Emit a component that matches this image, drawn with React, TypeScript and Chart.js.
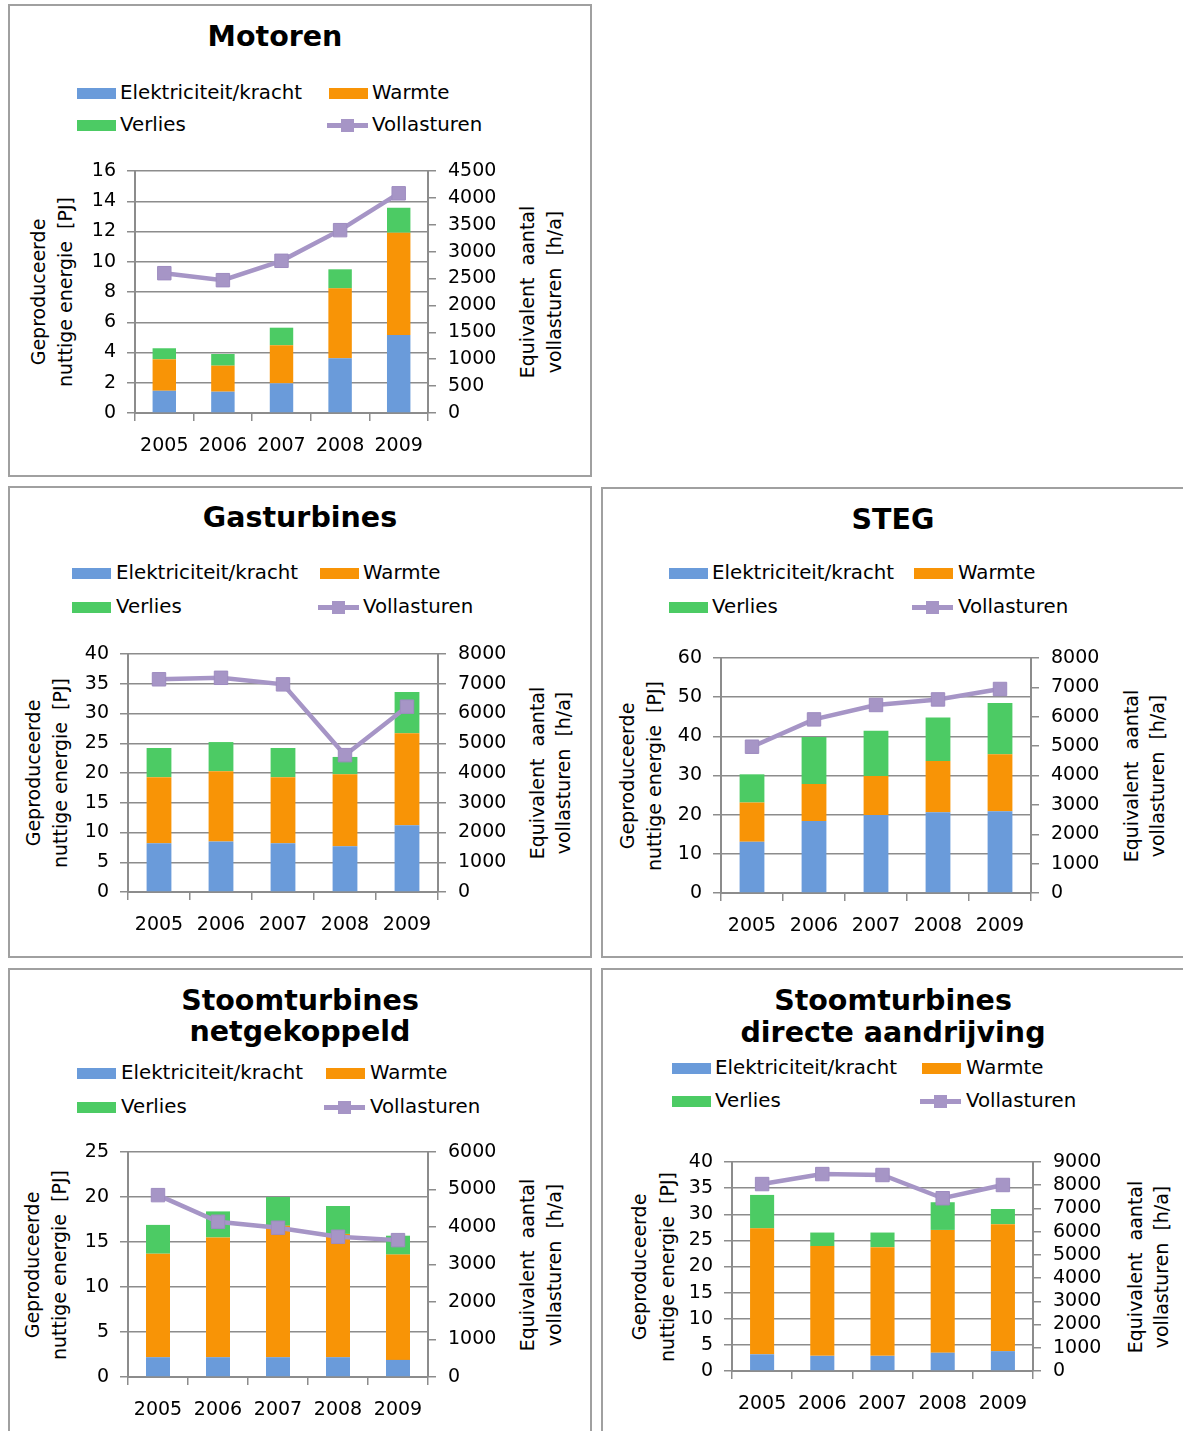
import React, { useEffect, useRef } from 'react';
import { Chart, registerables } from 'chart.js';

Chart.register(...registerables);

// ---------- Data ----------
const years = ['2005', '2006', '2007', '2008', '2009'];
const seriesNames = ['Elektriciteit/kracht', 'Warmte', 'Verlies', 'Vollasturen'];

const motorenElektriciteit = [1.47, 1.41, 1.96, 3.62, 5.16];
const motorenWarmte = [2.08, 1.72, 2.52, 4.62, 6.76];
const motorenVerlies = [0.73, 0.77, 1.16, 1.26, 1.65];
const motorenVollasturen = [2600, 2470, 2830, 3400, 4085];

const gasElektriciteit = [8.2, 8.5, 8.2, 7.7, 11.2];
const gasWarmte = [11.1, 11.8, 11.1, 12.1, 15.5];
const gasVerlies = [4.9, 4.9, 4.9, 2.9, 6.9];
const gasVollasturen = [7150, 7200, 6980, 4600, 6230];

const stegElektriciteit = [13.1, 18.4, 19.9, 20.6, 20.9];
const stegWarmte = [10.0, 9.4, 10.0, 13.1, 14.5];
const stegVerlies = [7.2, 12.0, 11.5, 11.1, 13.1];
const stegVollasturen = [4980, 5910, 6400, 6590, 6945];

const netElektriciteit = [2.2, 2.2, 2.2, 2.2, 1.9];
const netWarmte = [11.5, 13.3, 14.6, 13.7, 11.7];
const netVerlies = [3.2, 2.9, 3.2, 3.1, 2.1];
const netVollasturen = [4850, 4140, 3980, 3740, 3650];

const directElektriciteit = [3.2, 2.9, 2.9, 3.5, 3.8];
const directWarmte = [24.1, 21.0, 20.8, 23.5, 24.3];
const directVerlies = [6.4, 2.6, 2.8, 5.3, 2.9];
const directVollasturen = [8050, 8480, 8440, 7440, 8010];

// axis ranges [max, step]
const motorenLeftAxis = [16, 2];
const motorenRightAxis = [4500, 500];
const gasLeftAxis = [40, 5];
const gasRightAxis = [8000, 1000];
const stegLeftAxis = [60, 10];
const stegRightAxis = [8000, 1000];
const netLeftAxis = [25, 5];
const netRightAxis = [6000, 1000];
const directLeftAxis = [40, 5];
const directRightAxis = [9000, 1000];

const leftAxisTitle = ['Geproduceerde', 'nuttige energie  [PJ]'];
const rightAxisTitle = ['Equivalent  aantal', 'vollasturen  [h/a]'];

// ---------- Styles ----------
const FONT = '"DejaVu Sans", Verdana, sans-serif';
const BLUE = '#6A9BDA';
const ORANGE = '#F89406';
const GREEN = '#4CCB64';
const LAVENDER = '#A695C6';
const GRID = '#8C8C8C';
const AXIS = '#8C8C8C';
const BOX = '#A0A0A0';
const FS = 19;
const LEGEND_FS = 19.8;
const TITLE_FS = 28.5;

type Panel = {
  title: string[];
  titleX: number;
  titleY: number[];
  box: { l: number; t: number; r: number; b: number };
  legend: { sw1: number; tx1: number; sw2: number; tx2: number; y1: number; y2: number };
  plot: { l: number; t: number; r: number; b: number };
  axisTitleX: number[]; // left1, left2, right1, right2
  elek: number[];
  warmte: number[];
  verlies: number[];
  vollast: number[];
  left: number[];
  right: number[];
};

const panels: Panel[] = [
  {
    title: ['Motoren'],
    titleX: 275,
    titleY: [37],
    box: { l: 8, t: 4, r: 592, b: 477 },
    legend: { sw1: 77, tx1: 120, sw2: 329, tx2: 372, y1: 93, y2: 125 },
    plot: { l: 135, t: 171, r: 428, b: 413 },
    axisTitleX: [38, 65, 527, 554],
    elek: motorenElektriciteit,
    warmte: motorenWarmte,
    verlies: motorenVerlies,
    vollast: motorenVollasturen,
    left: motorenLeftAxis,
    right: motorenRightAxis,
  },
  {
    title: ['Gasturbines'],
    titleX: 300,
    titleY: [518],
    box: { l: 8, t: 486, r: 592, b: 958 },
    legend: { sw1: 72, tx1: 116, sw2: 320, tx2: 363, y1: 573, y2: 607 },
    plot: { l: 128, t: 654, r: 438, b: 892 },
    axisTitleX: [33, 60, 537, 563],
    elek: gasElektriciteit,
    warmte: gasWarmte,
    verlies: gasVerlies,
    vollast: gasVollasturen,
    left: gasLeftAxis,
    right: gasRightAxis,
  },
  {
    title: ['STEG'],
    titleX: 893,
    titleY: [520],
    box: { l: 601, t: 487, r: 1200, b: 958 },
    legend: { sw1: 669, tx1: 712, sw2: 914, tx2: 958, y1: 573, y2: 607 },
    plot: { l: 721, t: 658, r: 1031, b: 893 },
    axisTitleX: [627, 654, 1131, 1157],
    elek: stegElektriciteit,
    warmte: stegWarmte,
    verlies: stegVerlies,
    vollast: stegVollasturen,
    left: stegLeftAxis,
    right: stegRightAxis,
  },
  {
    title: ['Stoomturbines', 'netgekoppeld'],
    titleX: 300,
    titleY: [1001, 1032],
    box: { l: 8, t: 968, r: 592, b: 1440 },
    legend: { sw1: 77, tx1: 121, sw2: 326, tx2: 370, y1: 1073, y2: 1107 },
    plot: { l: 128, t: 1152, r: 428, b: 1377 },
    axisTitleX: [32, 59, 527, 554],
    elek: netElektriciteit,
    warmte: netWarmte,
    verlies: netVerlies,
    vollast: netVollasturen,
    left: netLeftAxis,
    right: netRightAxis,
  },
  {
    title: ['Stoomturbines', 'directe aandrijving'],
    titleX: 893,
    titleY: [1001, 1033],
    box: { l: 601, t: 968, r: 1200, b: 1440 },
    legend: { sw1: 672, tx1: 715, sw2: 922, tx2: 966, y1: 1068, y2: 1101 },
    plot: { l: 732, t: 1162, r: 1033, b: 1371 },
    axisTitleX: [639, 667, 1135, 1161],
    elek: directElektriciteit,
    warmte: directWarmte,
    verlies: directVerlies,
    vollast: directVollasturen,
    left: directLeftAxis,
    right: directRightAxis,
  },
];

const PAD_TOP = 30;
const X_AXIS_H = 50;
const PAGE_W = 1183;

function PlotCanvas({ p }: { p: Panel }) {
  const ref = useRef<HTMLCanvasElement>(null);
  const cl = p.box.l + 2;
  const cr = Math.min(p.box.r - 2, PAGE_W);
  const ct = p.plot.t - PAD_TOP;
  const w = cr - cl;
  const h = p.plot.b - p.plot.t + PAD_TOP + X_AXIS_H;
  const leftW = p.plot.l - cl;
  const rightW = cr - p.plot.r;

  useEffect(() => {
    const font = { family: FONT, size: FS };
    const plain = (v: any) => String(v);
    const chart = new Chart(ref.current as HTMLCanvasElement, {
      type: 'bar',
      data: {
        labels: years,
        datasets: [
          {
            type: 'line',
            label: seriesNames[3],
            data: p.vollast,
            yAxisID: 'y1',
            borderColor: LAVENDER,
            backgroundColor: LAVENDER,
            borderWidth: 4.5,
            pointStyle: 'rect',
            pointRadius: 9.5,
            pointBackgroundColor: LAVENDER,
            pointBorderColor: '#9E8CC0',
            pointBorderWidth: 1,
            tension: 0,
            order: 0,
          } as any,
          {
            type: 'bar',
            label: seriesNames[0],
            data: p.elek,
            yAxisID: 'y',
            backgroundColor: BLUE,
            barPercentage: 0.4,
            categoryPercentage: 1,
            order: 1,
          },
          {
            type: 'bar',
            label: seriesNames[1],
            data: p.warmte,
            yAxisID: 'y',
            backgroundColor: ORANGE,
            barPercentage: 0.4,
            categoryPercentage: 1,
            order: 1,
          },
          {
            type: 'bar',
            label: seriesNames[2],
            data: p.verlies,
            yAxisID: 'y',
            backgroundColor: GREEN,
            barPercentage: 0.4,
            categoryPercentage: 1,
            order: 1,
          },
        ],
      },
      options: {
        responsive: false,
        animation: false,
        layout: { padding: { top: PAD_TOP, left: 0, right: 0, bottom: 0 } },
        plugins: {
          legend: { display: false },
          tooltip: { enabled: false },
          title: { display: false },
        },
        scales: {
          x: {
            stacked: true,
            offset: true,
            grid: {
              offset: true,
              drawOnChartArea: false,
              drawTicks: true,
              tickLength: 8,
              color: GRID,
              lineWidth: 1.5,
            },
            border: { display: true, color: AXIS, width: 2 },
            ticks: { font, color: '#000', padding: 14, maxRotation: 0, autoSkip: false },
            afterFit: (s: any) => {
              s.height = X_AXIS_H;
            },
          },
          y: {
            stacked: true,
            position: 'left',
            min: 0,
            max: p.left[0],
            ticks: { stepSize: p.left[1], font, color: '#000', padding: 11, autoSkip: false, callback: plain },
            grid: { color: GRID, lineWidth: 1.5, drawTicks: true, tickLength: 8 },
            border: { display: true, color: AXIS, width: 2 },
            afterFit: (s: any) => {
              s.width = leftW;
            },
          },
          y1: {
            stacked: false,
            position: 'right',
            min: 0,
            max: p.right[0],
            ticks: { stepSize: p.right[1], font, color: '#000', padding: 12, autoSkip: false, callback: plain },
            grid: { drawOnChartArea: false, drawTicks: true, tickLength: 8, color: GRID, lineWidth: 1.5 },
            border: { display: true, color: AXIS, width: 2 },
            afterFit: (s: any) => {
              s.width = rightW;
            },
          },
        },
      } as any,
    });
    return () => chart.destroy();
  }, []);

  return (
    <canvas
      ref={ref}
      width={w}
      height={h}
      style={{ position: 'absolute', left: cl, top: ct, width: w, height: h }}
    />
  );
}

const textBase: React.CSSProperties = {
  position: 'absolute',
  fontFamily: FONT,
  fontSize: FS,
  color: '#000',
  whiteSpace: 'pre',
  lineHeight: '22px',
};

function LegendText({ x, y, text }: { x: number; y: number; text: string }) {
  return <div style={{ ...textBase, fontSize: LEGEND_FS, left: x, top: y - 11 }}>{text}</div>;
}

function Swatch({ x, y, color }: { x: number; y: number; color: string }) {
  return (
    <div style={{ position: 'absolute', left: x, top: y - 5, width: 39, height: 11, background: color }} />
  );
}

function LineSwatch({ x, y }: { x: number; y: number }) {
  return (
    <>
      <div style={{ position: 'absolute', left: x, top: y - 2, width: 41, height: 5, background: LAVENDER }} />
      <div
        style={{ position: 'absolute', left: x + 14, top: y - 6, width: 13, height: 13, background: LAVENDER }}
      />
    </>
  );
}

function PanelView({ p }: { p: Panel }) {
  const cy = (p.plot.t + p.plot.b) / 2;
  const rot = (x: number, text: string, key: string) => (
    <div
      key={key}
      style={{
        ...textBase,
        left: x,
        top: cy,
        transform: 'translate(-50%, -50%) rotate(-90deg)',
      }}
    >
      {text}
    </div>
  );
  return (
    <>
      <div
        style={{
          position: 'absolute',
          left: p.box.l,
          top: p.box.t,
          width: p.box.r - p.box.l,
          height: p.box.b - p.box.t,
          border: `2px solid ${BOX}`,
          boxSizing: 'border-box',
          background: '#fff',
        }}
      />
      {p.title.map((t, i) => (
        <div
          key={'t' + i}
          style={{
            ...textBase,
            fontSize: TITLE_FS,
            fontWeight: 'bold',
            lineHeight: '32px',
            left: p.titleX,
            top: p.titleY[i] - 16,
            transform: 'translateX(-50%)',
          }}
        >
          {t}
        </div>
      ))}
      <Swatch x={p.legend.sw1} y={p.legend.y1} color={BLUE} />
      <LegendText x={p.legend.tx1} y={p.legend.y1} text={seriesNames[0]} />
      <Swatch x={p.legend.sw2} y={p.legend.y1} color={ORANGE} />
      <LegendText x={p.legend.tx2} y={p.legend.y1} text={seriesNames[1]} />
      <Swatch x={p.legend.sw1} y={p.legend.y2} color={GREEN} />
      <LegendText x={p.legend.tx1} y={p.legend.y2} text={seriesNames[2]} />
      <LineSwatch x={p.legend.sw2 - 2} y={p.legend.y2} />
      <LegendText x={p.legend.tx2} y={p.legend.y2} text={seriesNames[3]} />
      {rot(p.axisTitleX[0], leftAxisTitle[0], 'l0')}
      {rot(p.axisTitleX[1], leftAxisTitle[1], 'l1')}
      {rot(p.axisTitleX[2], rightAxisTitle[0], 'r0')}
      {rot(p.axisTitleX[3], rightAxisTitle[1], 'r1')}
      <PlotCanvas p={p} />
    </>
  );
}

export default function App() {
  return (
    <div
      style={{
        position: 'absolute',
        left: 0,
        top: 0,
        width: PAGE_W,
        height: 1431,
        overflow: 'hidden',
        background: '#fff',
      }}
    >
      {panels.map((p, i) => (
        <PanelView key={i} p={p} />
      ))}
    </div>
  );
}
